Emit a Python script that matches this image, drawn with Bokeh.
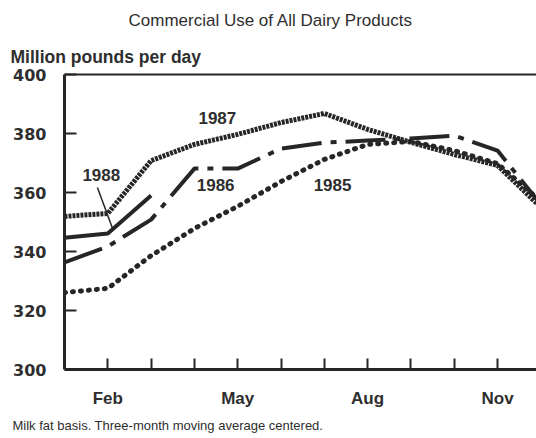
from bokeh.plotting import figure
from bokeh.models import Range1d, FixedTicker, LinearAxis, Label, Title
from bokeh.embed import file_html
from bokeh.resources import INLINE

# ---- data ----
month_names = ["Jan", "Feb", "Mar", "Apr", "May", "Jun", "Jul", "Aug", "Sep", "Oct", "Nov", "Dec"]
month_num = [1, 2, 3, 4, 5, 6, 7, 8, 9, 10, 11, 12]
use_1985 = [326.1, 327.5, 338.6, 347.8, 355.3, 363.7, 371.2, 376.3, 377.3, 374.2, 369.8, 357.0]
use_1986 = [336.3, 341.7, 350.8, 368.1, 368.1, 374.9, 376.9, 377.6, 378.3, 379.3, 374.2, 356.0]
use_1987 = [351.9, 352.9, 370.8, 376.3, 379.7, 383.7, 386.8, 381.4, 377.0, 372.9, 369.2, 355.0]
use_1988 = [344.7, 346.1, 359.0]
y_ticks = [300, 320, 340, 360, 380, 400]
x_tick_months = [2, 3, 4, 5, 6, 7, 8, 9, 10, 11]
x_tick_labels = {2: "Feb", 5: "May", 8: "Aug", 11: "Nov"}

INK = "#262626"
TXT = "#2e2e2e"
FONT = "Liberation Sans"

p = figure(width=536, height=438, output_backend="svg", toolbar_location=None,
           x_range=Range1d(1, 11.9), y_range=Range1d(300, 400),
           min_border_left=64, min_border_right=0, min_border_top=74, min_border_bottom=69)
p.outline_line_color = None
p.grid.grid_line_color = None
p.background_fill_color = "white"
p.border_fill_color = "white"

# y axis
ya = p.yaxis[0]
ya.ticker = FixedTicker(ticks=y_ticks)
ya.axis_line_width = 3
ya.axis_line_color = INK
ya.major_tick_in = 12
ya.major_tick_out = 0
ya.major_tick_line_width = 2
ya.major_tick_line_color = INK
ya.minor_tick_line_color = None
ya.major_label_standoff = 18
ya.major_label_text_font = "DejaVu Sans"
ya.major_label_text_font_style = "bold"
ya.major_label_text_font_size = "16px"
ya.major_label_text_color = TXT

# x axis
xa = p.xaxis[0]
xa.ticker = FixedTicker(ticks=x_tick_months)
xa.major_label_overrides = {m: x_tick_labels.get(m, "") for m in x_tick_months}
xa.axis_line_width = 3
xa.axis_line_color = INK
xa.major_tick_in = 11
xa.major_tick_out = 0
xa.major_tick_line_width = 2
xa.major_tick_line_color = INK
xa.minor_tick_line_color = None
xa.major_label_standoff = 19
xa.major_label_text_font = FONT
xa.major_label_text_font_style = "bold"
xa.major_label_text_font_size = "17px"
xa.major_label_text_color = TXT

# top border line
top = LinearAxis(ticker=FixedTicker(ticks=[]), axis_line_width=2, axis_line_color=INK,
                 major_tick_line_color=None, minor_tick_line_color=None,
                 major_tick_out=0, major_tick_in=0, major_label_standoff=0,
                 major_label_text_color=None)
p.add_layout(top, "above")

# texts outside the frame
p.add_layout(Title(text="Million pounds per day", align="left", offset=-54,
                   text_font=FONT, text_font_size="17.5px", text_font_style="bold",
                   text_color=TXT, standoff=15, text_line_height=1.0), "above")
p.add_layout(Title(text="Commercial Use of All Dairy Products", align="left", offset=64,
                   text_font=FONT, text_font_size="17px", text_font_style="normal",
                   text_color=TXT, standoff=15, text_line_height=1.0), "above")
p.add_layout(Title(text="Milk fat basis. Three-month moving average centered.", align="left",
                   offset=-52, text_font=FONT, text_font_size="13px", text_font_style="normal",
                   text_color=TXT, standoff=11, text_line_height=0.6), "below")

# series
p.line(month_num, use_1985, line_color=INK, line_width=5, line_dash="1 7", line_cap="round")
p.line(month_num, use_1986, line_color=INK, line_width=4, line_dash="40 9 6 9")
p.line(month_num, use_1987, line_color=INK, line_width=5, line_dash="3 1")
p.line(month_num[:len(use_1988)], use_1988, line_color=INK, line_width=4)

# leader line for 1988
p.segment(x0=[1.76], y0=[361.7], x1=[2.11], y1=[347.8], line_color=INK, line_width=1.5)

def lab(x, y, t, size="17px", style="bold", align="center", base="middle"):
    p.add_layout(Label(x=x, y=y, text=t, text_font=FONT, text_font_size=size,
                       text_font_style=style, text_color=TXT,
                       text_align=align, text_baseline=base))

lab(4.53, 385.1, "1987")
lab(1.85, 366.1, "1988")
lab(4.49, 362.7, "1986")
lab(7.19, 362.7, "1985")

open("out.html", "w").write(file_html(p, INLINE))
